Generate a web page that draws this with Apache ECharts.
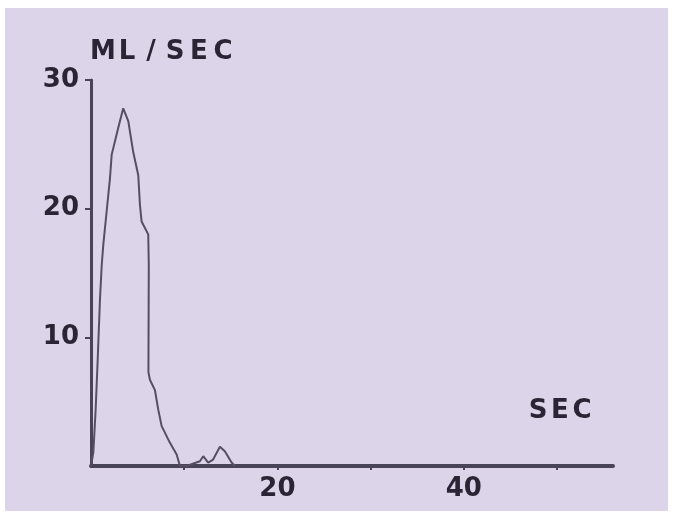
<!DOCTYPE html>
<html>
<head>
<meta charset="utf-8">
<script src="https://cdn.jsdelivr.net/npm/echarts@6/dist/echarts.min.js"></script>
<style>
  html, body { margin: 0; padding: 0; background: #ffffff; }
  #bg { position: absolute; left: 5px; top: 8px; width: 663px; height: 503px; background: #dcd4e8; }
  #chart { position: absolute; left: 0; top: 0; width: 675px; height: 520px; }
</style>
</head>
<body>
<div id="bg"></div>
<div id="chart"></div>
<script>
// Data (time in seconds, flow in ml/sec)
const timeSec = [0, 0.25, 0.5, 0.72, 0.96, 1.15, 1.32, 1.68, 2.04, 2.22, 2.93, 3.46, 4.0, 4.53, 5.07, 5.25, 5.43, 6.14, 6.2, 6.16, 6.32, 6.86, 7.21, 7.58, 8.47, 9.19, 9.54, 10.26, 11.68, 12.04, 12.57, 13.1, 13.83, 14.36, 15.08, 15.43];
const flowMlSec = [0, 1.05, 4.4, 8.3, 12.9, 15.6, 17.2, 19.8, 22.4, 24.2, 26.3, 27.8, 26.8, 24.4, 22.6, 20.3, 19.0, 18.0, 15.6, 7.3, 6.7, 5.9, 4.4, 3.1, 1.8, 0.9, 0, 0, 0.37, 0.76, 0.27, 0.5, 1.5, 1.15, 0.27, 0];
const xTickValues = [10, 20, 30, 40, 50];
const xLabelValues = [20, 40];
const yTickValues = [10, 20, 30];
const yLabelValues = [10, 20, 30];
const xName = 'SEC';
const yName = 'ML/SEC';

const textColor = '#2a2534';
const axisColor = '#4a4458';
const fontFamily = '"DejaVu Sans", sans-serif';

function spaced(str) {
  return str.split('').map(c => '{c|' + c + '}').join('');
}

const chart = echarts.init(document.getElementById('chart'), null, { renderer: 'canvas' });
chart.setOption({
  backgroundColor: 'transparent',
  animation: false,
  grid: { left: 91, top: 80, right: 62, bottom: 54, containLabel: false },
  xAxis: {
    type: 'value',
    min: 0,
    max: 56,
    interval: 10,
    name: spaced(xName),
    nameLocation: 'end',
    nameGap: -20,
    nameTextStyle: {
      align: 'right',
      verticalAlign: 'bottom',
      padding: [0, 0, 42, 0],
      rich: { c: { width: 22, align: 'center', fontSize: 26, fontWeight: 'bold', fontFamily: fontFamily, color: textColor } }
    },
    axisLine: { show: true, lineStyle: { color: axisColor, width: 4 } },
    axisTick: { show: true, customValues: xTickValues, length: 4, lineStyle: { color: axisColor, width: 2 } },
    axisLabel: {
      customValues: xLabelValues,
      margin: 10,
      fontSize: 26,
      fontWeight: 'bold',
      fontFamily: fontFamily,
      color: textColor
    },
    splitLine: { show: false }
  },
  yAxis: {
    type: 'value',
    min: 0,
    max: 30,
    interval: 10,
    name: spaced(yName),
    nameLocation: 'end',
    nameGap: 15,
    nameTextStyle: {
      align: 'left',
      verticalAlign: 'bottom',
      rich: { c: { width: 24, align: 'center', fontSize: 26, fontWeight: 'bold', fontFamily: fontFamily, color: textColor } }
    },
    axisLine: { show: true, lineStyle: { color: axisColor, width: 3 } },
    axisTick: { show: true, customValues: yTickValues, length: 6, lineStyle: { color: axisColor, width: 2 } },
    axisLabel: {
      customValues: yLabelValues,
      margin: 12,
      fontSize: 26,
      fontWeight: 'bold',
      fontFamily: fontFamily,
      color: textColor
    },
    splitLine: { show: false }
  },
  series: [{
    type: 'line',
    data: timeSec.map((t, i) => [t, flowMlSec[i]]),
    showSymbol: false,
    smooth: false,
    lineStyle: { color: '#564f64', width: 2 }
  }]
});
</script>
</body>
</html>
